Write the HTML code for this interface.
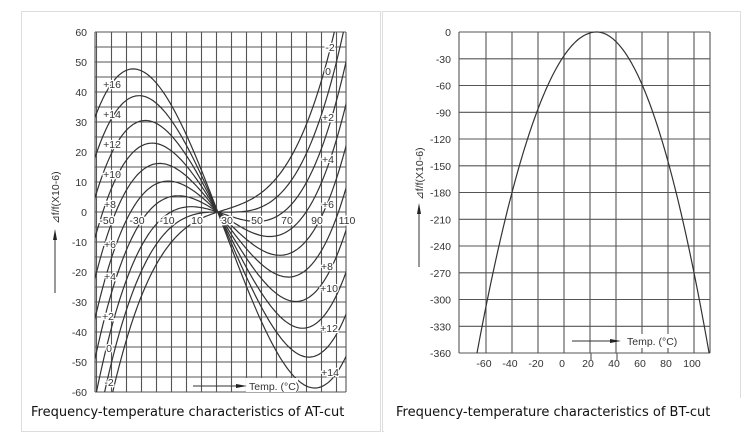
<!DOCTYPE html>
<html><head><meta charset="utf-8"><style>
html,body{margin:0;padding:0;background:#fff;width:756px;height:439px;overflow:hidden;position:relative;}
svg{display:block;position:absolute;left:0;top:0;}
.t{font-family:"Liberation Sans",sans-serif;font-size:10.5px;fill:#333;}
.c{font-family:"DejaVu Sans","Liberation Sans",sans-serif;font-size:13px;fill:#111;}
</style></head><body>
<svg id="s" width="756" height="439" viewBox="0 0 756 439" xmlns="http://www.w3.org/2000/svg">
<rect x="21.5" y="11.5" width="359" height="420" fill="#fff" stroke="#ddd"/>
<rect x="382.5" y="11.5" width="358" height="420" fill="#fff" stroke="#ddd"/>
<rect x="384" y="398" width="360" height="40" fill="#fff"/>
<g id="L"></g>
<g id="R"></g>
<text class="c" x="31" y="416">Frequency-temperature characteristics of AT-cut</text>
<text class="c" x="396" y="416">Frequency-temperature characteristics of BT-cut</text>
</svg>
<script>
var NS="http://www.w3.org/2000/svg";
function el(p,n,a,txt){var e=document.createElementNS(NS,n);for(var k in a)e.setAttribute(k,a[k]);if(txt!=null)e.textContent=txt;p.appendChild(e);return e;}
var L=document.getElementById('L'),R=document.getElementById('R');
var x0=95,x1=346,y0=32,y1=392;
var d="";
for(var y=y0;y<=y1+0.1;y+=15)d+="M"+x0+" "+y+"H"+x1;
d+="M"+x0+" "+y0+"V"+y1;
for(var x=96.5;x<=x1;x+=15)d+="M"+x+" "+y0+"V"+y1;
d+="M"+x1+" "+y0+"V"+y1;
el(L,'path',{d:d,stroke:'#555','stroke-width':1.1,fill:'none'});
el(L,'clipPath',{id:'cl'});
el(document.getElementById('cl'),'rect',{x:x0,y:y0,width:x1-x0,height:y1-y0});
var ks=[-2,0,2,4,6,8,10,12,14,16];
ks.forEach(function(k){
 var a1=-0.082*k,a2=-0.0015,a3=1.2e-4,p="";
 for(var T=-60;T<=112;T+=1){var u=T-24.5;var f=a1*u+a2*u*u+a3*u*u*u;
  var X=106+1.5*(T+50),Y=212-3*f;p+=(p?"L":"M")+X.toFixed(1)+" "+Y.toFixed(1);}
 el(L,'path',{d:p,stroke:'#333','stroke-width':1.2,fill:'none','clip-path':'url(#cl)'});
});
for(var i=0;i<=12;i++){el(L,'text',{class:'t',x:87,y:y0+i*30+4,'text-anchor':'end'},String(60-i*10));}
var xl=[-50,-30,-10,10,30,50,70,90,110];
xl.forEach(function(v,i){el(L,'text',{class:'t',x:107+30*i,y:224,'text-anchor':'middle',stroke:'#fff','stroke-width':3,'paint-order':'stroke'},String(v));});
var lab=[["+16",112,88],["+14",112,118],["+12",112,148],["+10",112,178],["+8",110,208],["+6",110,248],["+4",110,280],["+2",108,320],["0",109,352],["-2",109,386],
["-2",330,51],["0",328,75],["+2",328,121],["+4",328,163],["+6",328,208],["+8",327,270],["+10",329,292],["+12",329,332],["+14",330,376]];
lab.forEach(function(l){el(L,'text',{class:'t',x:l[1],y:l[2],'text-anchor':'middle',stroke:'#fff','stroke-width':2.5,'paint-order':'stroke'},l[0]);});
el(L,'rect',{x:246,y:378,width:52,height:14,fill:'#fff'});
el(L,'path',{d:"M193 386H240",stroke:'#333','stroke-width':1});
el(L,'path',{d:"M236 384L247 386L236 388Z",fill:'#222'});
el(L,'text',{class:'t',x:249,y:390},"Temp. (°C)");
el(L,'path',{d:"M55 293V236",stroke:'#333','stroke-width':1});
el(L,'path',{d:"M53 240L55 229L57 240Z",fill:'#222'});
el(L,'text',{class:'t',transform:'translate(59,224) rotate(-90)','font-size':'11.5px'},"⊿f/f(X10-6)");
var X0=459,X1=710,Y0=32,Y1=353,st=(Y1-Y0)/12;
d="";
for(var i=0;i<=12;i++)d+="M"+X0+" "+(Y0+i*st).toFixed(1)+"H"+X1;
d+="M"+X0+" "+Y0+"V"+Y1+"M"+X1+" "+Y0+"V"+Y1;
for(var T=-60;T<=100;T+=20){var X=564+1.3*T;d+="M"+X+" "+Y0+"V"+Y1;}
d+="M591 "+Y1+"V360M617 "+Y1+"V360";
el(R,'path',{d:d,stroke:'#555','stroke-width':1.1,fill:'none'});
el(R,'clipPath',{id:'cr'});
el(document.getElementById('cr'),'rect',{x:X0,y:Y0-2,width:X1-X0,height:Y1-Y0+2});
var p="";
for(var T=-80;T<=113;T+=1){var u=T-25;var k=u<0?0.0426:0.048;var f=-k*u*u;
 var X=564+1.3*T,Y=Y0-f*st/30;p+=(p?"L":"M")+X.toFixed(1)+" "+Y.toFixed(1);}
el(R,'path',{d:p,stroke:'#333','stroke-width':1.2,fill:'none','clip-path':'url(#cr)'});
for(var i=0;i<=12;i++){el(R,'text',{class:'t',x:451,y:(Y0+i*st+4).toFixed(1),'text-anchor':'end'},i==0?"0":"-"+(i*30));}
for(var T=-60;T<=100;T+=20){el(R,'text',{class:'t',x:(564+1.3*T-2),y:367,'text-anchor':'middle'},String(T));}
el(R,'rect',{x:624,y:334,width:54,height:14,fill:'#fff'});
el(R,'path',{d:"M572 341H614",stroke:'#333','stroke-width':1});
el(R,'path',{d:"M610 339L621 341L610 343Z",fill:'#222'});
el(R,'text',{class:'t',x:627,y:345},"Temp. (°C)");
el(R,'path',{d:"M419 267V210",stroke:'#333','stroke-width':1});
el(R,'path',{d:"M417 214L419 203L421 214Z",fill:'#222'});
el(R,'text',{class:'t',transform:'translate(423,200) rotate(-90)','font-size':'11.5px'},"⊿f/f(X10-6)");
</script>
</body></html>
